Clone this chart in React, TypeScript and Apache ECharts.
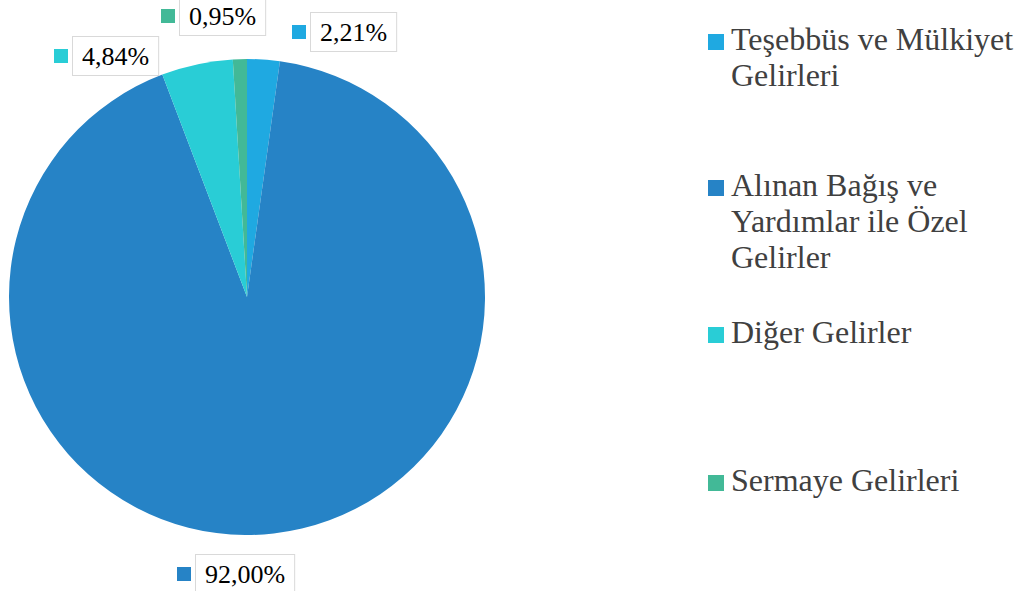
import React, { useEffect, useRef } from "react";
import * as echarts from "echarts";

const categories = [
  "Teşebbüs ve Mülkiyet Gelirleri",
  "Alınan Bağış ve Yardımlar ile Özel Gelirler",
  "Diğer Gelirler",
  "Sermaye Gelirleri",
];
// legend text as wrapped in the reference
const legendLines = [
  ["Teşebbüs ve Mülkiyet", "Gelirleri"],
  ["Alınan Bağış ve", "Yardımlar ile Özel", "Gelirler"],
  ["Diğer Gelirler"],
  ["Sermaye Gelirleri"],
];
const values = [2.21, 92.0, 4.84, 0.95];
const colors = ["#1fa9e1", "#2683c6", "#29cdd6", "#42b997"];

// label anchor (left x, center y) per slice
const labelPos: [number, number][] = [
  [292, 32],
  [177, 574],
  [54, 56],
  [161, 16],
];
// legend first-line top y
const legendTop = [23, 169, 316, 464];

const FONT = "Times New Roman";

export default function App() {
  const ref = useRef<HTMLDivElement>(null);
  useEffect(() => {
    document.body.style.margin = "0";
    const chart = echarts.init(ref.current!, null, { renderer: "svg" });
    const graphic: any[] = [];
    categories.forEach((name, i) => {
      graphic.push({
        type: "rect",
        left: 708,
        top: legendTop[i] + 11,
        shape: { width: 16, height: 16 },
        style: { fill: colors[i] },
      });
      legendLines[i].forEach((line, j) => {
        graphic.push({
          type: "text",
          left: 731,
          top: legendTop[i] + j * 36,
          style: {
            text: line,
            fontFamily: FONT,
            fontSize: 32,
            fill: "#404040",
          },
        });
      });
    });
    chart.setOption({
      animation: false,
      graphic,
      series: [
        {
          type: "pie",
          center: [247, 297],
          radius: 238,
          startAngle: 90,
          clockwise: true,
          data: categories.map((name, i) => ({
            name,
            value: values[i],
            itemStyle: { color: colors[i] },
          })),
          emphasis: { disabled: true },
          labelLine: { show: false },
          label: {
            show: true,
            position: "outside",
            overflow: "none",
            fontFamily: FONT,
            formatter: (p: any) =>
              `{sq|}{gap|}{t|${p.value.toFixed(2).replace(".", ",")}%}`,
            rich: {
              sq: {
                width: 14,
                height: 14,
                backgroundColor: "inherit",
              },
              gap: { width: 5 },
              t: {
                fontFamily: FONT,
                fontSize: 26,
                color: "#000",
                backgroundColor: "#fff",
                borderColor: "#d9d9d9",
                borderWidth: 1,
                padding: [6, 9, 6, 9],
              },
            },
          },
          labelLayout: (params: any) => {
            const p = labelPos[params.dataIndex];
            return { x: p[0], y: p[1], align: "left", verticalAlign: "middle" };
          },
        },
      ],
    });
    return () => chart.dispose();
  }, []);
  return <div ref={ref} style={{ width: 1029, height: 591 }} />;
}
